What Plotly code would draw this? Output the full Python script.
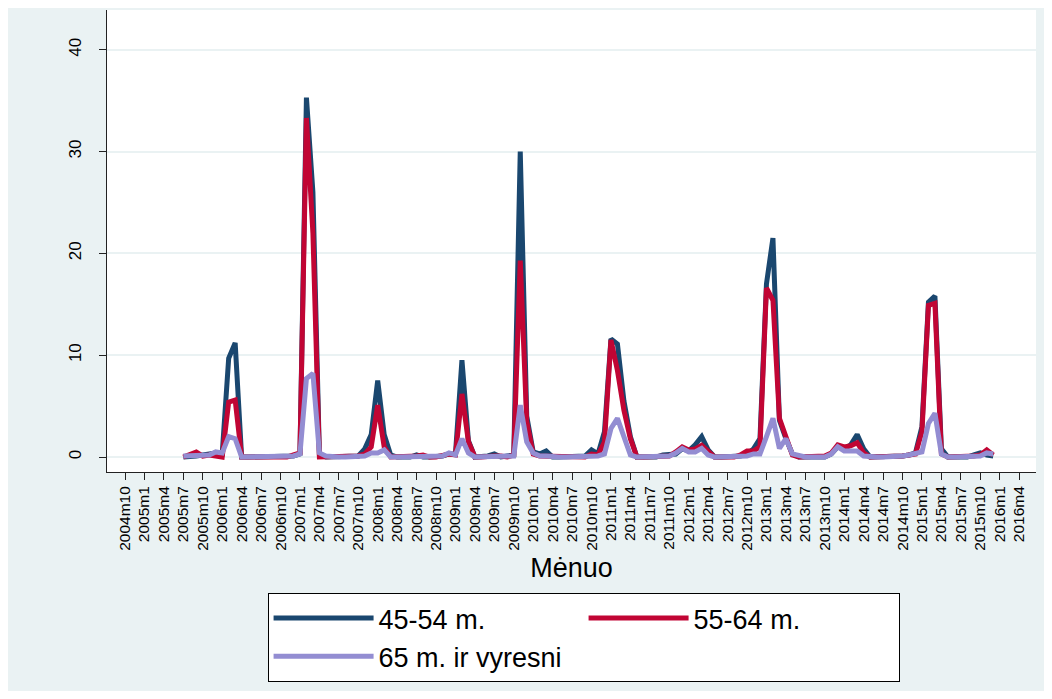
import plotly.graph_objects as go

# ---- data (monthly, 2005m7 .. 2015m12) ----
series_start = "2005m7"
n_months = 126

blue_45_54 = [
    0.0, 0.0, 0.1, 0.2, 0.3, 0.4, 0.3, 9.7, 11.2, 0.0,          # 2005m7-2006m4
    0.0, 0.0, 0.0, 0.0, 0.0, 0.0, 0.0, 0.1, 0.3, 35.3,          # 2006m5-2007m2
    26.0, 0.3, 0.0, 0.0, 0.0, 0.0, 0.0, 0.1, 0.8, 2.2,          # 2007m3-2007m12
    7.5, 2.2, 0.2, 0.0, 0.0, 0.0, 0.2, 0.0, 0.0, 0.0,           # 2008m1-2008m10
    0.1, 0.3, 0.3, 9.5, 1.6, 0.0, 0.0, 0.1, 0.3, 0.0,           # 2008m11-2009m8
    0.1, 0.2, 30.0, 4.0, 0.5, 0.3, 0.6, 0.0, 0.0, 0.0,          # 2009m9-2010m6
    0.0, 0.0, 0.1, 0.7, 0.3, 2.5, 11.6, 11.1, 5.5, 2.0,         # 2010m7-2011m4
    0.0, 0.0, 0.0, 0.0, 0.2, 0.2, 0.3, 0.8, 0.6, 1.2,           # 2011m5-2012m2
    2.0, 0.7, 0.0, 0.0, 0.0, 0.0, 0.1, 0.3, 0.8, 1.8,           # 2012m3-2012m12
    17.0, 21.5, 3.6, 1.8, 0.3, 0.0, 0.0, 0.0, 0.0, 0.0,         # 2013m1-2013m10
    0.3, 1.0, 0.8, 1.2, 2.2, 0.8, 0.0, 0.0, 0.0, 0.0,           # 2013m11-2014m8
    0.1, 0.1, 0.2, 0.4, 3.0, 15.2, 15.8, 0.8, 0.0, 0.0,         # 2014m9-2015m6
    0.0, 0.0, 0.2, 0.4, 0.2, 0.1,                               # 2015m7-2015m12
]
red_55_64 = [
    0.0, 0.2, 0.5, 0.1, 0.2, 0.1, 0.0, 5.4, 5.6, 0.0,
    0.0, 0.0, 0.0, 0.0, 0.0, 0.0, 0.0, 0.2, 0.4, 33.3,
    22.0, 0.0, 0.0, 0.0, 0.0, 0.0, 0.0, 0.1, 0.3, 1.0,
    5.1, 1.0, 0.0, 0.0, 0.0, 0.0, 0.1, 0.2, 0.0, 0.0,
    0.1, 0.3, 0.2, 6.2, 1.5, 0.0, 0.0, 0.1, 0.1, 0.1,
    0.0, 0.2, 19.3, 3.5, 0.3, 0.1, 0.1, 0.0, 0.0, 0.0,
    0.0, 0.0, 0.0, 0.3, 0.2, 1.5, 11.5, 8.5, 4.6, 1.8,
    0.0, 0.0, 0.0, 0.0, 0.0, 0.1, 0.5, 1.0, 0.7, 0.8,
    1.15, 0.5, 0.0, 0.0, 0.0, 0.0, 0.2, 0.6, 0.6, 1.0,
    16.6, 15.4, 3.8, 2.0, 0.2, 0.0, 0.0, 0.0, 0.0, 0.1,
    0.4, 1.2, 1.0, 1.1, 1.4, 0.4, 0.0, 0.0, 0.0, 0.0,
    0.0, 0.1, 0.2, 0.3, 2.5, 14.9, 15.1, 0.3, 0.0, 0.0,
    0.0, 0.0, 0.1, 0.2, 0.7, 0.2,
]
lav_65_plus = [
    0.1, 0.1, 0.1, 0.1, 0.2, 0.5, 0.4, 2.0, 1.8, 0.0,
    0.0, 0.0, 0.0, 0.0, 0.0, 0.0, 0.0, 0.1, 0.3, 7.7,
    8.2, 0.4, 0.1, 0.0, 0.0, 0.0, 0.0, 0.0, 0.1, 0.4,
    0.4, 0.7, 0.0, 0.0, 0.0, 0.0, 0.0, 0.0, 0.0, 0.0,
    0.1, 0.4, 0.2, 1.8, 0.4, 0.0, 0.0, 0.0, 0.0, 0.0,
    0.0, 0.1, 5.1, 1.5, 0.4, 0.1, 0.1, 0.0, 0.0, 0.0,
    0.0, 0.0, 0.0, 0.1, 0.1, 0.3, 2.8, 3.8, 1.8, 0.2,
    0.0, 0.0, 0.0, 0.0, 0.0, 0.1, 0.4, 0.85, 0.5, 0.5,
    0.85, 0.2, 0.0, 0.0, 0.0, 0.0, 0.0, 0.1, 0.3, 0.3,
    2.0, 3.8, 0.85, 1.8, 0.3, 0.1, 0.0, 0.0, 0.0, 0.0,
    0.3, 1.0, 0.6, 0.6, 0.6, 0.1, 0.0, 0.0, 0.0, 0.0,
    0.0, 0.1, 0.2, 0.3, 0.5, 3.3, 4.3, 0.3, 0.0, 0.0,
    0.0, 0.0, 0.1, 0.1, 0.4, 0.3,
]
series_names = ["45-54 m.", "55-64 m.", "65 m. ir vyresni"]
series_colors = ["#1a476f", "#c10534", "#938dd2"]

tick_start, tick_end, tick_step = "2004m10", "2016m4", 3
y_ticks = [0, 10, 20, 30, 40]


def month_index(lbl):
    y, m = lbl.split("m")
    return (int(y) - 2004) * 12 + int(m) - 10


def label_from_index(i):
    tot = 2004 * 12 + 9 + i
    return f"{tot // 12}m{tot % 12 + 1}"


s0 = month_index(series_start)
months = [label_from_index(s0 + k) for k in range(n_months)]
xs = [month_index(m) for m in months]

tick_idx = list(range(month_index(tick_start), month_index(tick_end) + 1, tick_step))
tick_txt = [label_from_index(i) for i in tick_idx]

fig = go.Figure()
for name, vals, col in zip(series_names, [blue_45_54, red_55_64, lav_65_plus], series_colors):
    fig.add_trace(go.Scatter(x=xs, y=vals, mode="lines", name=name,
                             line=dict(color=col, width=5), customdata=months,
                             hovertemplate="%{customdata}: %{y}<extra>" + name + "</extra>"))

FONT = "Liberation Sans, Arial, sans-serif"
W, H = 1036, 683
fig.update_layout(
    width=W, height=H,
    margin=dict(l=99, r=8, t=2, b=219),
    paper_bgcolor="#eaf2f3", plot_bgcolor="white",
    font=dict(family=FONT, color="black"),
    showlegend=True,
    legend=dict(orientation="h", x=0.513, xanchor="center",
                yref="container", y=1 - 585 / H, yanchor="top",
                bgcolor="white", bordercolor="black", borderwidth=1,
                font=dict(size=27, family=FONT), itemwidth=100, entrywidth=200,
                traceorder="normal"),
    xaxis=dict(range=[-2.78, 140.6], tickmode="array", tickvals=tick_idx, ticktext=tick_txt,
               tickangle=-90, tickfont=dict(size=15.5), ticks="outside", ticklen=7,
               tickcolor="#222", showgrid=False, zeroline=False, showline=True,
               linecolor="#222", linewidth=1,
               title=dict(text="Mėnuo", font=dict(size=27), standoff=8)),
    yaxis=dict(range=[-1.47, 43.9], tickvals=y_ticks, tickangle=-90,
               tickfont=dict(size=17), ticks="outside", ticklen=7, tickcolor="#222",
               ticklabelstandoff=11,
               showgrid=True, gridcolor="#eaf2f3", gridwidth=2, zeroline=False,
               showline=True, linecolor="#222", linewidth=1),
)

fig.write_html("out.html")
